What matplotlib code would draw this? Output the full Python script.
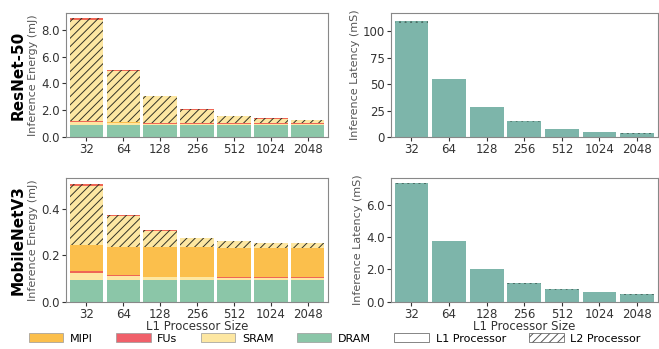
import matplotlib
matplotlib.use("Agg")
import matplotlib.pyplot as plt
import numpy as np
from matplotlib.patches import Patch

plt.rcParams["hatch.linewidth"] = 0.7

sizes = ["32", "64", "128", "256", "512", "1024", "2048"]

# ResNet-50 energy (mJ)
rn_dram = [0.90, 0.90, 0.90, 0.90, 0.90, 0.90, 0.90]
rn_sram_l1 = [0.20, 0.12, 0.10, 0.10, 0.10, 0.10, 0.10]
rn_fus_l1 = [0.08, 0.06, 0.05, 0.05, 0.05, 0.05, 0.05]
rn_mipi_l1 = [0.02, 0.02, 0.02, 0.02, 0.02, 0.02, 0.02]
rn_sram_l2 = [7.55, 3.85, 1.98, 0.98, 0.50, 0.31, 0.21]
rn_fus_l2 = [0.10, 0.05, 0.05, 0.05, 0.03, 0.02, 0.02]

# MobileNetV3 energy (mJ)
mn_dram = [0.095, 0.095, 0.095, 0.095, 0.095, 0.095, 0.095]
mn_sram_l1 = [0.030, 0.015, 0.010, 0.010, 0.008, 0.008, 0.008]
mn_fus_l1 = [0.006, 0.005, 0.004, 0.004, 0.004, 0.004, 0.004]
mn_mipi_l1 = [0.114, 0.120, 0.125, 0.125, 0.123, 0.123, 0.123]
mn_sram_l2 = [0.255, 0.136, 0.073, 0.039, 0.030, 0.023, 0.023]
mn_fus_l2 = [0.005, 0.004, 0.003, 0.002, 0.002, 0.002, 0.002]

# latency (ms)
rn_lat_l1 = [107.5, 54.0, 27.2, 14.4, 7.6, 4.5, 3.1]
rn_lat_l2 = [1.5, 1.0, 0.8, 0.6, 0.4, 0.4, 0.4]
mn_lat_l1 = [7.25, 3.7, 1.95, 1.12, 0.75, 0.55, 0.43]
mn_lat_l2 = [0.08, 0.06, 0.05, 0.04, 0.03, 0.03, 0.03]

c_mipi = "#fbbf4c"
c_fus = "#ef6655"
c_sram = "#fde7a2"
c_dram = "#8bc6a8"
c_lat = "#7db5aa"
hatch_col = "#333326"

fig = plt.figure(figsize=(6.59, 3.49), dpi=100)
ax_rn_e = fig.add_axes([0.100, 0.607, 0.398, 0.356])
ax_rn_l = fig.add_axes([0.593, 0.607, 0.405, 0.356])
ax_mn_e = fig.add_axes([0.100, 0.135, 0.398, 0.355])
ax_mn_l = fig.add_axes([0.593, 0.135, 0.405, 0.355])

x = np.arange(len(sizes))
w = 0.9


def energy(ax, dram, sram1, fus1, mipi1, sram2, fus2):
    b = np.zeros(len(dram))
    for vals, col, h in [(dram, c_dram, None), (sram1, c_sram, None),
                         (fus1, c_fus, None), (mipi1, c_mipi, None),
                         (sram2, c_sram, "////"), (fus2, c_fus, "////")]:
        vals = np.array(vals)
        if h:
            ax.bar(x, vals, w, bottom=b, color=col, edgecolor=hatch_col,
                   hatch=h, linewidth=0)
        else:
            ax.bar(x, vals, w, bottom=b, color=col, linewidth=0)
        b = b + vals


def latency(ax, l1, l2):
    ax.bar(x, l1, w, color=c_lat, linewidth=0)
    ax.bar(x, l2, w, bottom=l1, color=c_lat, edgecolor="#4d6e66",
           hatch="...", linewidth=0)


energy(ax_rn_e, rn_dram, rn_sram_l1, rn_fus_l1, rn_mipi_l1, rn_sram_l2, rn_fus_l2)
energy(ax_mn_e, mn_dram, mn_sram_l1, mn_fus_l1, mn_mipi_l1, mn_sram_l2, mn_fus_l2)
latency(ax_rn_l, rn_lat_l1, rn_lat_l2)
latency(ax_mn_l, mn_lat_l1, mn_lat_l2)

ax_rn_e.set_ylim(0, 9.25)
ax_rn_e.set_yticks([0, 2, 4, 6, 8])
ax_rn_e.set_yticklabels(["0.0", "2.0", "4.0", "6.0", "8.0"])
ax_mn_e.set_ylim(0, 0.533)
ax_mn_e.set_yticks([0, 0.2, 0.4])
ax_mn_e.set_yticklabels(["0.0", "0.2", "0.4"])
ax_rn_l.set_ylim(0, 117)
ax_rn_l.set_yticks([0, 25, 50, 75, 100])
ax_mn_l.set_ylim(0, 7.65)
ax_mn_l.set_yticks([0, 2, 4, 6])
ax_mn_l.set_yticklabels(["0.0", "2.0", "4.0", "6.0"])

for ax in [ax_rn_e, ax_rn_l, ax_mn_e, ax_mn_l]:
    ax.set_xlim(-0.55, 6.55)
    ax.set_xticks(x)
    ax.set_xticklabels(sizes)
    ax.tick_params(labelsize=8.5, colors="#333333", length=3, pad=1.5)
    for s in ax.spines.values():
        s.set_color("#888888")

ax_rn_e.set_ylabel("Inference Energy (mJ)", fontsize=8, color="#555555", labelpad=2)
ax_mn_e.set_ylabel("Inference Energy (mJ)", fontsize=8, color="#555555", labelpad=2)
ax_rn_l.set_ylabel("Inference Latency (mS)", fontsize=8, color="#555555", labelpad=2)
ax_mn_l.set_ylabel("Inference Latency (mS)", fontsize=8, color="#555555", labelpad=2)
ax_mn_e.set_xlabel("L1 Processor Size", fontsize=8.5, color="#333333", labelpad=-1)
ax_mn_l.set_xlabel("L1 Processor Size", fontsize=8.5, color="#333333", labelpad=-1)

fig.text(0.028, 0.785, "ResNet-50", rotation=90, fontsize=11, fontweight="bold",
         ha="center", va="center")
fig.text(0.028, 0.312, "MobileNetV3", rotation=90, fontsize=11, fontweight="bold",
         ha="center", va="center")

handles = [
    Patch(facecolor=c_mipi, edgecolor="#999999", linewidth=0.5, label="MIPI"),
    Patch(facecolor="#f0606a", edgecolor="#999999", linewidth=0.5, label="FUs"),
    Patch(facecolor=c_sram, edgecolor="#999999", linewidth=0.5, label="SRAM"),
    Patch(facecolor=c_dram, edgecolor="#999999", linewidth=0.5, label="DRAM"),
    Patch(facecolor="white", edgecolor="#555555", linewidth=0.5, label="L1 Processor"),
    Patch(facecolor="white", edgecolor="#555555", linewidth=0.5, hatch="////",
          label="L2 Processor"),
]
fig.legend(handles=handles, loc="center", bbox_to_anchor=(0.508, 0.03), ncol=6,
           frameon=False, fontsize=8, handlelength=3.1, handleheight=0.8,
           columnspacing=2.1, handletextpad=0.6, borderpad=0)

fig.savefig("out.png", dpi=100)
